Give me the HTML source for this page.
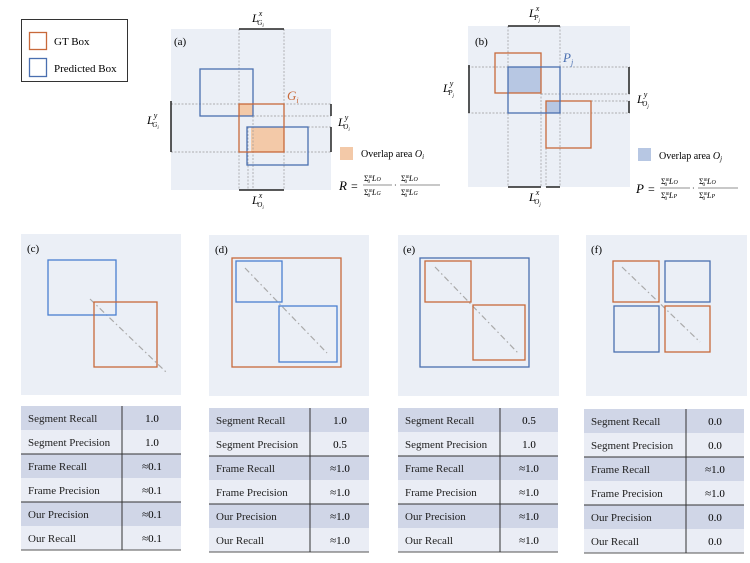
<!DOCTYPE html>
<html><head><meta charset="utf-8"><style>
body{margin:0;background:#fff;}
svg{display:block;font-family:"Liberation Serif",serif;}
.m{font-style:italic;}
</style></head><body>
<svg width="750" height="563" viewBox="0 0 750 563" xmlns="http://www.w3.org/2000/svg">
<defs>
<g id="tbl">
<rect x="0" y="0" width="160" height="24" fill="#d0d6e7"/>
<rect x="0" y="24" width="160" height="24" fill="#eaedf5"/>
<rect x="0" y="48" width="160" height="24" fill="#d0d6e7"/>
<rect x="0" y="72" width="160" height="24" fill="#eaedf5"/>
<rect x="0" y="96" width="160" height="24" fill="#d0d6e7"/>
<rect x="0" y="120" width="160" height="24" fill="#eaedf5"/>
<line x1="0" y1="48" x2="160" y2="48" stroke="#333" stroke-width="1"/>
<line x1="0" y1="96" x2="160" y2="96" stroke="#333" stroke-width="1"/>
<line x1="0" y1="144" x2="160" y2="144" stroke="#555" stroke-width="1"/>
<g font-size="11" fill="#222">
<text x="7" y="16">Segment Recall</text>
<text x="7" y="40">Segment Precision</text>
<text x="7" y="64">Frame Recall</text>
<text x="7" y="88">Frame Precision</text>
<text x="7" y="112">Our Precision</text>
<text x="7" y="136">Our Recall</text>
</g>
</g>
</defs>

<!-- legend -->
<rect x="21.5" y="19.5" width="106" height="62" fill="#fff" stroke="#333"/>
<rect x="29.5" y="32.5" width="17" height="17" fill="none" stroke="#c8693a" stroke-width="1.3"/>
<rect x="29.5" y="58.5" width="17" height="18" fill="none" stroke="#4a6fb0" stroke-width="1.3"/>
<text x="54" y="45" font-size="11">GT Box</text>
<text x="54" y="72" font-size="11">Predicted Box</text>

<!-- (a) -->
<rect x="171" y="29" width="160" height="161" fill="#ebeff6"/>
<text x="174" y="45" font-size="11">(a)</text>
<rect x="239" y="104" width="14" height="12" fill="#f3c9a8"/>
<rect x="251" y="127" width="33" height="25" fill="#f3c9a8"/>
<g stroke="#999" stroke-width="0.7" stroke-dasharray="2,1.5" fill="none">
<line x1="239" y1="29" x2="239" y2="190"/><line x1="284" y1="29" x2="284" y2="190"/>
<line x1="248" y1="127" x2="248" y2="190"/><line x1="253" y1="116" x2="253" y2="190"/>
<line x1="171" y1="104" x2="331" y2="104"/><line x1="171" y1="152" x2="331" y2="152"/>
<line x1="253" y1="116" x2="331" y2="116"/><line x1="308" y1="127" x2="331" y2="127"/>
</g>
<rect x="200" y="69" width="53" height="47" fill="none" stroke="#4a6fb0" stroke-width="1.3"/>
<rect x="247" y="127" width="61" height="38" fill="none" stroke="#4a6fb0" stroke-width="1.3"/>
<rect x="239" y="104" width="45" height="48" fill="none" stroke="#c8693a" stroke-width="1.3"/>
<g stroke="#222" stroke-width="1.5">
<line x1="239" y1="29" x2="284" y2="29"/><line x1="239" y1="190" x2="284" y2="190"/>
<line x1="171" y1="101" x2="171" y2="152"/>
<line x1="331" y1="104" x2="331" y2="116"/><line x1="331" y1="127" x2="331" y2="152"/>
</g>
<text class="m" x="287" y="100" font-size="13" fill="#c8693a">G<tspan font-size="8" dy="3">i</tspan></text>
<text class="m" x="252" y="22" font-size="12">L<tspan font-size="8" dy="-6">x</tspan><tspan font-size="7" dx="-5" dy="9">G</tspan><tspan font-size="5" dy="2">i</tspan></text>
<text class="m" x="147" y="124" font-size="12">L<tspan font-size="8" dy="-6">y</tspan><tspan font-size="7" dx="-5" dy="9">G</tspan><tspan font-size="5" dy="2">i</tspan></text>
<text class="m" x="338" y="126" font-size="12">L<tspan font-size="8" dy="-6">y</tspan><tspan font-size="7" dx="-5" dy="9">O</tspan><tspan font-size="5" dy="2">i</tspan></text>
<text class="m" x="252" y="204" font-size="12">L<tspan font-size="8" dy="-6">x</tspan><tspan font-size="7" dx="-5" dy="9">O</tspan><tspan font-size="5" dy="2">i</tspan></text>
<rect x="340" y="147" width="13" height="13" fill="#f3c9a8"/>
<text x="361" y="157" font-size="10">Overlap area <tspan class="m">O</tspan><tspan class="m" font-size="7" dy="2">i</tspan></text>
<text class="m" x="339" y="190" font-size="13">R</text>
<text x="351" y="190" font-size="12">=</text>
<text x="364" y="181" font-size="8">Σ<tspan font-size="5" dy="-3">m</tspan><tspan font-size="5" dx="-5" dy="5">0</tspan> <tspan class="m" dy="-2">L</tspan><tspan class="m" font-size="6">O</tspan></text>
<line x1="363" y1="185" x2="392" y2="185" stroke="#222" stroke-width="0.6"/>
<text x="364" y="195" font-size="8">Σ<tspan font-size="5" dy="-3">m</tspan><tspan font-size="5" dx="-5" dy="5">0</tspan> <tspan class="m" dy="-2">L</tspan><tspan class="m" font-size="6">G</tspan></text>
<text x="394" y="188" font-size="8">·</text>
<text x="401" y="181" font-size="8">Σ<tspan font-size="5" dy="-3">m</tspan><tspan font-size="5" dx="-5" dy="5">0</tspan> <tspan class="m" dy="-2">L</tspan><tspan class="m" font-size="6">O</tspan></text>
<line x1="400" y1="185" x2="440" y2="185" stroke="#222" stroke-width="0.6"/>
<text x="401" y="195" font-size="8">Σ<tspan font-size="5" dy="-3">m</tspan><tspan font-size="5" dx="-5" dy="5">0</tspan> <tspan class="m" dy="-2">L</tspan><tspan class="m" font-size="6">G</tspan></text>

<!-- (b) -->
<rect x="468" y="26" width="162" height="161" fill="#ebeff6"/>
<text x="475" y="45" font-size="11">(b)</text>
<rect x="508" y="67" width="33" height="26" fill="#b7c7e3"/>
<rect x="546" y="101" width="14" height="12" fill="#b7c7e3"/>
<g stroke="#999" stroke-width="0.7" stroke-dasharray="2,1.5" fill="none">
<line x1="508" y1="26" x2="508" y2="187"/><line x1="560" y1="26" x2="560" y2="187"/>
<line x1="541" y1="93" x2="541" y2="187"/><line x1="546" y1="148" x2="546" y2="187"/>
<line x1="468" y1="67" x2="630" y2="67"/><line x1="468" y1="113" x2="630" y2="113"/>
<line x1="541" y1="94" x2="630" y2="94"/><line x1="591" y1="101" x2="630" y2="101"/>
</g>
<rect x="495" y="53" width="46" height="40" fill="none" stroke="#c8693a" stroke-width="1.3"/>
<rect x="546" y="101" width="45" height="47" fill="none" stroke="#c8693a" stroke-width="1.3"/>
<rect x="508" y="67" width="52" height="46" fill="none" stroke="#4a6fb0" stroke-width="1.3"/>
<g stroke="#222" stroke-width="1.5">
<line x1="508" y1="26" x2="560" y2="26"/><line x1="508" y1="187" x2="541" y2="187"/><line x1="546" y1="187" x2="560" y2="187"/>
<line x1="469" y1="65" x2="469" y2="113"/>
<line x1="629" y1="67" x2="629" y2="94"/><line x1="629" y1="101" x2="629" y2="113"/>
</g>
<text class="m" x="563" y="62" font-size="13" fill="#4a6fb0">P<tspan font-size="8" dy="3">j</tspan></text>
<text class="m" x="529" y="17" font-size="12">L<tspan font-size="8" dy="-6">x</tspan><tspan font-size="7" dx="-5" dy="9">P</tspan><tspan font-size="5" dy="2">j</tspan></text>
<text class="m" x="443" y="92" font-size="12">L<tspan font-size="8" dy="-6">y</tspan><tspan font-size="7" dx="-5" dy="9">P</tspan><tspan font-size="5" dy="2">j</tspan></text>
<text class="m" x="637" y="103" font-size="12">L<tspan font-size="8" dy="-6">y</tspan><tspan font-size="7" dx="-5" dy="9">O</tspan><tspan font-size="5" dy="2">j</tspan></text>
<text class="m" x="529" y="201" font-size="12">L<tspan font-size="8" dy="-6">x</tspan><tspan font-size="7" dx="-5" dy="9">O</tspan><tspan font-size="5" dy="2">j</tspan></text>
<rect x="638" y="148" width="13" height="13" fill="#b7c7e3"/>
<text x="659" y="159" font-size="10">Overlap area <tspan class="m">O</tspan><tspan class="m" font-size="7" dy="2">j</tspan></text>
<text class="m" x="636" y="193" font-size="13">P</text>
<text x="648" y="193" font-size="12">=</text>
<text x="661" y="184" font-size="8">Σ<tspan font-size="5" dy="-3">m</tspan><tspan font-size="5" dx="-5" dy="5">0</tspan> <tspan class="m" dy="-2">L</tspan><tspan class="m" font-size="6">O</tspan></text>
<line x1="660" y1="188" x2="690" y2="188" stroke="#222" stroke-width="0.6"/>
<text x="661" y="198" font-size="8">Σ<tspan font-size="5" dy="-3">m</tspan><tspan font-size="5" dx="-5" dy="5">0</tspan> <tspan class="m" dy="-2">L</tspan><tspan class="m" font-size="6">P</tspan></text>
<text x="692" y="191" font-size="8">·</text>
<text x="699" y="184" font-size="8">Σ<tspan font-size="5" dy="-3">m</tspan><tspan font-size="5" dx="-5" dy="5">0</tspan> <tspan class="m" dy="-2">L</tspan><tspan class="m" font-size="6">O</tspan></text>
<line x1="698" y1="188" x2="738" y2="188" stroke="#222" stroke-width="0.6"/>
<text x="699" y="198" font-size="8">Σ<tspan font-size="5" dy="-3">m</tspan><tspan font-size="5" dx="-5" dy="5">0</tspan> <tspan class="m" dy="-2">L</tspan><tspan class="m" font-size="6">P</tspan></text>

<!-- (c) -->
<rect x="21" y="234" width="160" height="161" fill="#ebeff6"/>
<text x="27" y="252" font-size="11">(c)</text>
<line x1="90" y1="299" x2="166" y2="372" stroke="#aaa" stroke-width="1.2" stroke-dasharray="6,3,1.5,3"/>
<rect x="48" y="260" width="68" height="55" fill="none" stroke="#4a7fd0" stroke-width="1.3"/>
<rect x="94" y="302" width="63" height="65" fill="none" stroke="#c8693a" stroke-width="1.3"/>
<g transform="translate(21,406)"><use href="#tbl"/>
<line x1="101" y1="0" x2="101" y2="144" stroke="#333"/>
<g font-size="11" text-anchor="middle"><text x="131" y="16">1.0</text><text x="131" y="40">1.0</text><text x="131" y="64">≈0.1</text><text x="131" y="88">≈0.1</text><text x="131" y="112">≈0.1</text><text x="131" y="136">≈0.1</text></g></g>

<!-- (d) -->
<rect x="209" y="235" width="160" height="161" fill="#ebeff6"/>
<text x="215" y="253" font-size="11">(d)</text>
<line x1="245" y1="268" x2="327" y2="353" stroke="#aaa" stroke-width="1.2" stroke-dasharray="6,3,1.5,3"/>
<rect x="232" y="258" width="109" height="109" fill="none" stroke="#c8693a" stroke-width="1.3"/>
<rect x="236" y="261" width="46" height="41" fill="none" stroke="#4a7fd0" stroke-width="1.3"/>
<rect x="279" y="306" width="58" height="56" fill="none" stroke="#4a7fd0" stroke-width="1.3"/>
<g transform="translate(209,408)"><use href="#tbl"/>
<line x1="101" y1="0" x2="101" y2="144" stroke="#333"/>
<g font-size="11" text-anchor="middle"><text x="131" y="16">1.0</text><text x="131" y="40">0.5</text><text x="131" y="64">≈1.0</text><text x="131" y="88">≈1.0</text><text x="131" y="112">≈1.0</text><text x="131" y="136">≈1.0</text></g></g>

<!-- (e) -->
<rect x="398" y="235" width="161" height="161" fill="#ebeff6"/>
<text x="403" y="253" font-size="11">(e)</text>
<line x1="435" y1="267" x2="518" y2="353" stroke="#aaa" stroke-width="1.2" stroke-dasharray="6,3,1.5,3"/>
<rect x="420" y="258" width="109" height="109" fill="none" stroke="#4a6fb0" stroke-width="1.3"/>
<rect x="425" y="261" width="46" height="41" fill="none" stroke="#c8693a" stroke-width="1.3"/>
<rect x="473" y="305" width="52" height="55" fill="none" stroke="#c8693a" stroke-width="1.3"/>
<g transform="translate(398,408)"><use href="#tbl"/>
<line x1="102" y1="0" x2="102" y2="144" stroke="#333"/>
<g font-size="11" text-anchor="middle"><text x="131" y="16">0.5</text><text x="131" y="40">1.0</text><text x="131" y="64">≈1.0</text><text x="131" y="88">≈1.0</text><text x="131" y="112">≈1.0</text><text x="131" y="136">≈1.0</text></g></g>

<!-- (f) -->
<rect x="586" y="235" width="161" height="161" fill="#ebeff6"/>
<text x="591" y="253" font-size="11">(f)</text>
<line x1="622" y1="267" x2="700" y2="342" stroke="#aaa" stroke-width="1.2" stroke-dasharray="6,3,1.5,3"/>
<rect x="613" y="261" width="46" height="41" fill="none" stroke="#c8693a" stroke-width="1.3"/>
<rect x="665" y="261" width="45" height="41" fill="none" stroke="#4a6fb0" stroke-width="1.3"/>
<rect x="614" y="306" width="45" height="46" fill="none" stroke="#4a6fb0" stroke-width="1.3"/>
<rect x="665" y="306" width="45" height="46" fill="none" stroke="#c8693a" stroke-width="1.3"/>
<g transform="translate(584,409)"><use href="#tbl"/>
<line x1="102" y1="0" x2="102" y2="144" stroke="#333"/>
<g font-size="11" text-anchor="middle"><text x="131" y="16">0.0</text><text x="131" y="40">0.0</text><text x="131" y="64">≈1.0</text><text x="131" y="88">≈1.0</text><text x="131" y="112">0.0</text><text x="131" y="136">0.0</text></g></g>
</svg>
</body></html>
